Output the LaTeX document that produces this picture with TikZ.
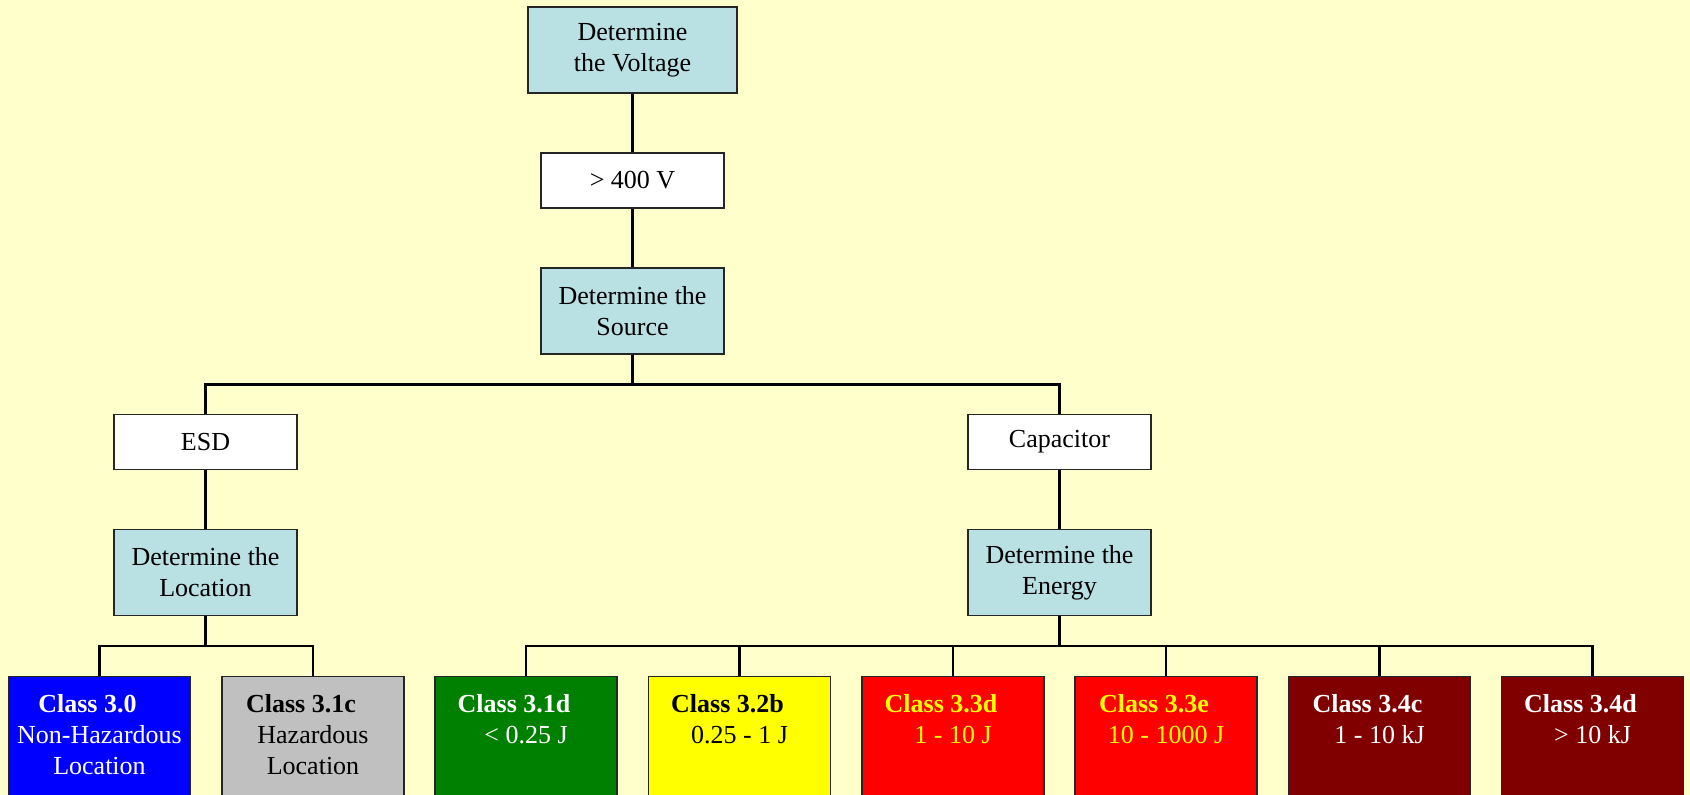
\documentclass[tikz,border=0pt]{standalone}
\usepackage{fontspec}
\setmainfont{Liberation Serif}
\definecolor{pagebg}{HTML}{FFFFCC}
\definecolor{stepfill}{HTML}{B9E0E3}
\definecolor{cblue}{HTML}{0000FF}
\definecolor{cgray}{HTML}{C0C0C0}
\definecolor{cgreen}{HTML}{008000}
\definecolor{cyellow}{HTML}{FFFF00}
\definecolor{cred}{HTML}{FF0000}
\definecolor{cmaroon}{HTML}{800000}
\tikzset{
  boxbase/.style={draw=black!85, line width=0.6pt, inner sep=0pt, align=center,
    font=\fontsize{13}{15.5}\selectfont},
  stepbox/.style={boxbase, fill=stepfill, minimum width=91.5pt, minimum height=43pt},
  choicebox/.style={boxbase, fill=white, minimum width=91.5pt, minimum height=27.5pt},
  classbox/.style={boxbase, anchor=north, minimum width=91pt, minimum height=65pt},
  classtext/.style={anchor=north, inner sep=0pt, align=center,
    font=\fontsize{13}{15.5}\selectfont},
  link/.style={draw=black, line width=1.3pt},
}
\newcommand{\classhead}[1]{\textbf{#1}\hspace*{12pt}}
\begin{document}
\begin{tikzpicture}[x=0.5pt,y=-0.5pt]
  \useasboundingbox (0,0) rectangle (1690,795);
  \fill[pagebg] (0,0) rectangle (1690,795);

  % decision chain
  \node[stepbox, minimum width=104.5pt] (volt) at (632.5,50) {Determine\\the Voltage};
  \node[choicebox] (v400) at (632.5,180.5) {> 400 V};
  \node[stepbox] (src) at (632.5,311) {Determine the\\Source};
  \node[choicebox] (esd) at (205.5,442) {ESD};
  \node[choicebox] (cap) at (1059.5,442) {Capacitor};
  \node[stepbox] (loc) at (205.5,572.5) {Determine the\\Location};
  \node[stepbox] (nrg) at (1059.5,572.5) {Determine the\\Energy};

  % classification boxes
  \node[classbox, fill=cblue]   (c30)  at (99.5,676)  {};
  \node[classbox, fill=cgray]   (c31c) at (313,676)   {};
  \node[classbox, fill=cgreen]  (c31d) at (526,676)   {};
  \node[classbox, fill=cyellow] (c32b) at (739.5,676) {};
  \node[classbox, fill=cred]    (c33d) at (953,676)   {};
  \node[classbox, fill=cred]    (c33e) at (1166,676)  {};
  \node[classbox, fill=cmaroon] (c34c) at (1379.5,676){};
  \node[classbox, fill=cmaroon] (c34d) at (1592.5,676){};

  \node[classtext, text=white]   (t30)  at ([yshift=-9pt]c30.north)  {\classhead{Class 3.0}\\Non-Hazardous\\Location};
  \node[classtext, text=black]   (t31c) at ([yshift=-9pt]c31c.north) {\classhead{Class 3.1c}\\Hazardous\\Location};
  \node[classtext, text=white]   (t31d) at ([yshift=-9pt]c31d.north) {\classhead{Class 3.1d}\\< 0.25 J};
  \node[classtext, text=black]   (t32b) at ([yshift=-9pt]c32b.north) {\classhead{Class 3.2b}\\0.25 - 1 J};
  \node[classtext, text=cyellow] (t33d) at ([yshift=-9pt]c33d.north) {\classhead{Class 3.3d}\\1 - 10 J};
  \node[classtext, text=cyellow] (t33e) at ([yshift=-9pt]c33e.north) {\classhead{Class 3.3e}\\10 - 1000 J};
  \node[classtext, text=white]   (t34c) at ([yshift=-9pt]c34c.north) {\classhead{Class 3.4c}\\1 - 10 kJ};
  \node[classtext, text=white]   (t34d) at ([yshift=-9pt]c34d.north) {\classhead{Class 3.4d}\\> 10 kJ};

  % connectors
  \draw[link] (volt.south) -- (v400.north);
  \draw[link] (v400.south) -- (src.north);
  \draw[link] (src.south) -- ++(0,30) -| (esd.north);
  \draw[link] (src.south) -- ++(0,30) -| (cap.north);
  \draw[link] (esd.south) -- (loc.north);
  \draw[link] (cap.south) -- (nrg.north);
  \foreach \c in {c30,c31c}
    \draw[link] (loc.south) -- ++(0,30) -| (\c.north);
  \foreach \c in {c31d,c32b,c33d,c33e,c34c,c34d}
    \draw[link] (nrg.south) -- ++(0,30) -| (\c.north);
\end{tikzpicture}
\end{document}
